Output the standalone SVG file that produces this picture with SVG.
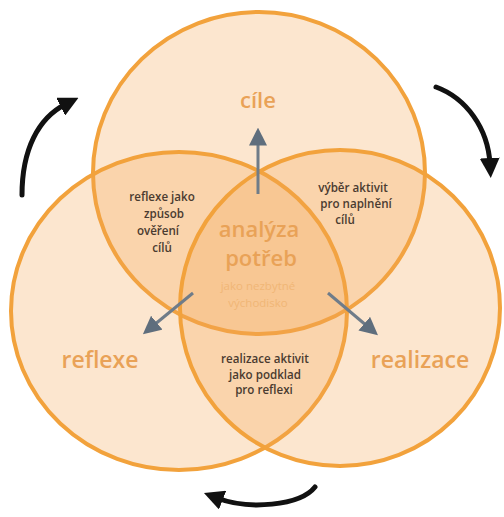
<svg xmlns="http://www.w3.org/2000/svg" width="504" height="517" viewBox="0 0 504 517">
  <defs>
    <style>
      .ring { fill: #f6a552; fill-opacity: 0.28; stroke: #f2a23c; stroke-width: 4; }
      .big { font-family: "Open Sans", "Liberation Sans", sans-serif; font-weight: 600; fill: #e9a257; text-anchor: middle; }
      .small { font-family: "Open Sans", "Liberation Sans", sans-serif; font-weight: 600; font-size: 11.6px; fill: #4a3b30; text-anchor: middle; }
      .pale { font-family: "Open Sans", "Liberation Sans", sans-serif; font-size: 11.5px; fill: #f0b676; text-anchor: middle; }
      .flow { fill: none; stroke: #6f7c89; stroke-width: 3; }
      .cycle { fill: none; stroke: #111; stroke-width: 5; stroke-linecap: round; }
    </style>
    <marker id="headGray" viewBox="0 0 10 10" refX="2" refY="5" markerWidth="6" markerHeight="6" orient="auto" markerUnits="strokeWidth">
      <path d="M0,0 L10,5 L0,10 Z" fill="#5f6e7d"/>
    </marker>
    <marker id="headBlack" viewBox="0 0 10 10" refX="3" refY="5" markerWidth="4" markerHeight="4" orient="auto" markerUnits="strokeWidth">
      <path d="M0,0 L10,5 L0,10 Z" fill="#111"/>
    </marker>
  </defs>

  <rect width="504" height="517" fill="#ffffff"/>

  <!-- three overlapping circles -->
  <g id="cile">
    <ellipse class="ring" cx="259" cy="173" rx="166" ry="161"/>
    <text class="big" x="258" y="108" font-size="22">cíle</text>
  </g>
  <g id="reflexe">
    <ellipse class="ring" cx="179" cy="311" rx="168" ry="159"/>
    <text class="big" x="100" y="368" font-size="23">reflexe</text>
  </g>
  <g id="realizace">
    <ellipse class="ring" cx="340" cy="308" rx="160" ry="158"/>
    <text class="big" x="420" y="368" font-size="23">realizace</text>
  </g>

  <!-- labels of the overlaps -->
  <g id="reflexe-cile">
    <text class="small" x="162" y="201">reflexe jako</text>
    <text class="small" x="164" y="218">způsob</text>
    <text class="small" x="158" y="235">ověření</text>
    <text class="small" x="162" y="252">cílů</text>
  </g>
  <g id="cile-realizace">
    <text class="small" x="353" y="192">výběr aktivit</text>
    <text class="small" x="356" y="208">pro naplnění</text>
    <text class="small" x="345" y="224">cílů</text>
  </g>
  <g id="realizace-reflexe">
    <text class="small" x="265" y="363">realizace aktivit</text>
    <text class="small" x="265" y="379">jako podklad</text>
    <text class="small" x="264" y="394">pro reflexi</text>
  </g>
  <g id="analyza">
    <text class="big" x="259" y="237" font-size="22">analýza</text>
    <text class="big" x="261" y="266" font-size="22">potřeb</text>
    <text class="pale" x="258" y="290">jako nezbytné</text>
    <text class="pale" x="258" y="307">východisko</text>
  </g>

  <!-- connectors -->
  <g id="connectors">
    <path class="flow" d="M258,194 L258,142" marker-end="url(#headGray)"/>
    <path class="flow" d="M193,293 L154,325" marker-end="url(#headGray)"/>
    <path class="flow" d="M328,293 L367,326" marker-end="url(#headGray)"/>
    <path class="cycle" d="M22,195 C22,150 38,118 66,104" marker-end="url(#headBlack)"/>
    <path class="cycle" d="M436,87 C466,98 488,128 490,164" marker-end="url(#headBlack)"/>
    <path class="cycle" d="M315,487 C300,506 248,510 217,498" marker-end="url(#headBlack)"/>
  </g>
</svg>
